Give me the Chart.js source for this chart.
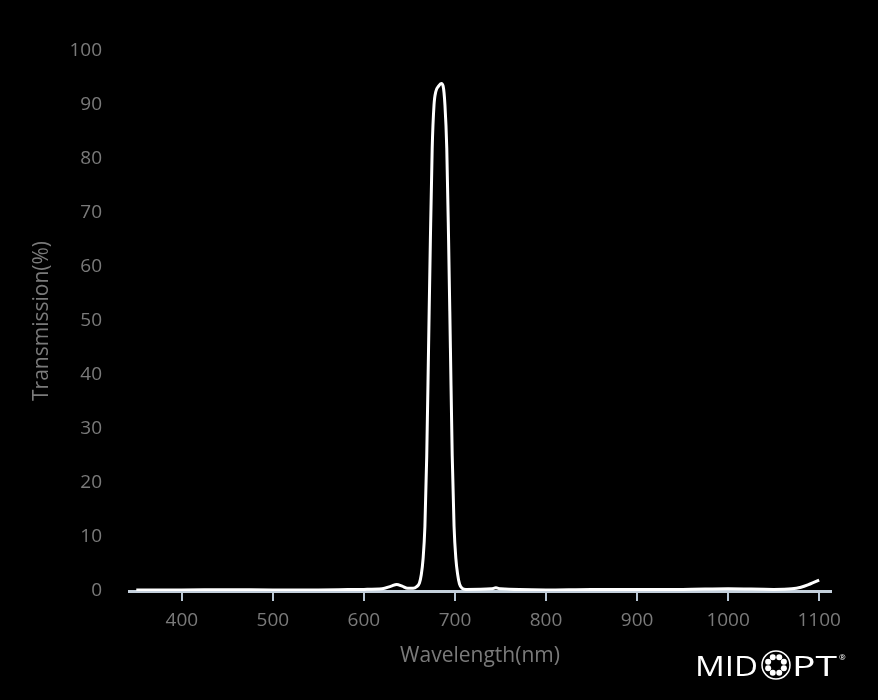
<!DOCTYPE html>
<html>
<head>
<meta charset="utf-8">
<script src="https://cdn.jsdelivr.net/npm/chart.js@4"></script>
<style>
  html, body { margin: 0; padding: 0; background: #000; }
  #wrap { width: 878px; height: 700px; position: relative; }
</style>
</head>
<body>
<div id="wrap"><canvas id="c" width="878" height="700"></canvas></div>
<script>
// Wavelength (nm) and transmission (%)
const wavelengths = [350, 400, 450, 500, 550, 600, 620, 630, 636, 642, 648, 654, 658, 661, 663, 665, 667, 669, 671, 673, 675, 677, 679, 682, 685, 687, 689, 691, 693, 695, 697, 699, 701, 703, 705, 708, 712, 740, 745, 750, 800, 850, 900, 950, 1000, 1050, 1070, 1080, 1090, 1100];
const transmission = [0.2, 0.2, 0.25, 0.2, 0.2, 0.3, 0.4, 0.9, 1.2, 0.9, 0.5, 0.5, 0.8, 1.5, 3, 6, 12, 25, 45, 65, 82, 90, 92.5, 93.5, 94, 93.5, 90, 82, 65, 45, 25, 12, 6, 3, 1.3, 0.5, 0.3, 0.4, 0.6, 0.4, 0.2, 0.3, 0.3, 0.3, 0.4, 0.3, 0.4, 0.7, 1.3, 2.0];
const xTickValues = [400, 500, 600, 700, 800, 900, 1000, 1100];
const yTickValues = [0, 10, 20, 30, 40, 50, 60, 70, 80, 90, 100];
const xTitle = 'Wavelength(nm)';
const yTitle = 'Transmission(%)';

const points = wavelengths.map((w, i) => ({ x: w, y: transmission[i] }));
const FONT = "'Open Sans', 'Liberation Sans', sans-serif";
const GRAY = '#7a7a7a';

function fitText(ctx, text, x, y, width) {
  const w = ctx.measureText(text).width;
  ctx.save();
  ctx.translate(x, y);
  ctx.scale(width / w, 1);
  ctx.fillText(text, 0, 0);
  ctx.restore();
}

const logoPlugin = {
  id: 'logo',
  afterDraw(chart) {
    const ctx = chart.ctx;
    ctx.save();
    ctx.fillStyle = '#ffffff';
    ctx.strokeStyle = '#ffffff';
    ctx.textBaseline = 'alphabetic';
    ctx.textAlign = 'left';
    ctx.font = "28px 'Open Sans', sans-serif";
    fitText(ctx, 'MID', 695, 676, 63);
    const cx = 776, cy = 665, r = 14;
    ctx.lineWidth = 1.5;
    ctx.beginPath(); ctx.arc(cx, cy, r, 0, Math.PI * 2); ctx.stroke();
    for (let k = 0; k < 8; k++) {
      const a = k * Math.PI / 4 + Math.PI / 8;
      ctx.beginPath(); ctx.arc(cx + Math.cos(a) * 8.5, cy + Math.sin(a) * 8.5, 3, 0, Math.PI * 2); ctx.fill();
    }
    fitText(ctx, 'PT', 792, 676, 45);
    ctx.font = "8px 'Open Sans', sans-serif";
    ctx.fillText('®', 839, 660);
    ctx.restore();
  }
};

new Chart(document.getElementById('c'), {
  type: 'scatter',
  data: {
    datasets: [{
      data: points,
      showLine: true,
      borderColor: '#ffffff',
      borderWidth: 3,
      pointRadius: 0,
      cubicInterpolationMode: 'monotone',
      fill: false
    }]
  },
  options: {
    responsive: false,
    animation: false,
    layout: { padding: { left: 0, right: 47, top: 51, bottom: 0 } },
    plugins: { legend: { display: false }, tooltip: { enabled: false } },
    scales: {
      x: {
        type: 'linear',
        min: 342,
        max: 1113,
        afterBuildTicks(scale) { scale.ticks = xTickValues.map(v => ({ value: v })); },
        afterFit(scale) { scale.height = 109; },
        grid: { display: true, drawOnChartArea: false, drawTicks: true, tickLength: 10, color: '#b8c6d4', lineWidth: 2 },
        border: { display: true, color: '#c4d0dc', width: 3 },
        ticks: { color: GRAY, font: { family: FONT, size: 19 }, padding: 8, maxRotation: 0, callback: v => String(v) },
        title: { display: true, text: xTitle, color: GRAY, font: { family: FONT, size: 21 }, padding: { top: 0, bottom: 31 } }
      },
      y: {
        min: 0,
        max: 100,
        afterBuildTicks(scale) { scale.ticks = yTickValues.map(v => ({ value: v })); },
        afterFit(scale) { scale.width = 129; },
        grid: { display: false, drawTicks: false },
        border: { display: false },
        ticks: { color: GRAY, font: { family: FONT, size: 19 }, padding: 27, callback: v => String(v) },
        title: { display: true, text: yTitle, color: GRAY, font: { family: FONT, size: 21 }, padding: { top: 29, bottom: 0 } }
      }
    }
  },
  plugins: [logoPlugin]
});
</script>
</body>
</html>
